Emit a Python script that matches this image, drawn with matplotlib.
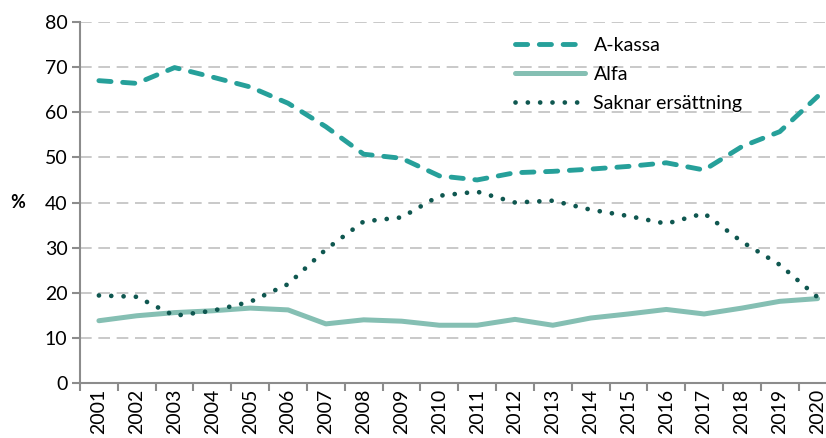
import matplotlib.pyplot as plt
import numpy as np

plt.rcParams['font.family'] = ['Lato', 'DejaVu Sans']

years = [str(y) for y in range(2001, 2021)]
a_kassa = [67.0, 66.4, 69.9, 67.8, 65.6, 62.0, 56.8, 50.7, 49.8, 45.9,
           45.0, 46.6, 46.9, 47.4, 48.0, 48.8, 47.2, 52.4, 55.7, 63.5]
alfa = [13.8, 14.9, 15.6, 16.0, 16.6, 16.2, 13.1, 14.0, 13.7, 12.8,
        12.8, 14.1, 12.8, 14.4, 15.3, 16.3, 15.3, 16.6, 18.1, 18.7]
saknar = [19.4, 19.1, 14.9, 16.0, 18.0, 21.9, 29.6, 35.8, 36.7, 41.5,
          42.4, 40.0, 40.4, 38.4, 37.0, 35.3, 37.6, 31.3, 26.2, 19.0]

c_akassa = '#26A09A'
c_alfa = '#85BFB3'
c_saknar = '#0F5750'
grey = '#8C8C8C'

fig = plt.figure(figsize=(8.26, 4.38), dpi=100)
# plot area runs a bit past the right edge, like the source image
ax = fig.add_axes([80 / 826, 55 / 438, 756.5 / 826, 361 / 438])

x = np.arange(len(years))
ax.plot(x, a_kassa, color=c_akassa, lw=3.5, dashes=(2.5, 2.4),
        dash_capstyle='round', label='A-kassa', zorder=3)
ax.plot(x, alfa, color=c_alfa, lw=3.6, solid_capstyle='round',
        label='Alfa', zorder=2)
ax.plot(x, saknar, color=c_saknar, lw=3.4, dashes=(0.01, 2.6),
        dash_capstyle='round', label='Saknar ersättning', zorder=3)

ax.set_ylim(0, 80)
ax.set_xlim(-0.5, len(years) - 0.5)
ax.set_yticks(range(0, 81, 10))
for v in range(10, 81, 10):
    ax.axhline(v, color='#C0C0C0', lw=1.2, dashes=(7, 4), zorder=1)

# category axis: ticks between years, labels in the middle
ax.set_xticks(np.arange(-0.5, len(years), 1))
ax.set_xticklabels([])
ax.set_xticks(x, minor=True)
ax.set_xticklabels(years, minor=True, rotation=90, va='top')
ax.tick_params(axis='x', which='minor', length=0, pad=4, labelsize=14)
ax.tick_params(axis='x', which='major', length=6, width=1.5, color=grey)
ax.tick_params(axis='y', length=6, width=1.5, color=grey, labelsize=14, pad=3)

for side in ['top', 'right']:
    ax.spines[side].set_visible(False)
for side in ['left', 'bottom']:
    ax.spines[side].set_color(grey)
    ax.spines[side].set_linewidth(1.5)

fig.text(18 / 826, 1 - 203 / 438, '%', fontsize=13, fontweight='bold',
         va='center', ha='center')

ax.legend(loc='upper left', bbox_to_anchor=(505 / 826, 1 - 27 / 438),
          bbox_transform=fig.transFigure, frameon=False, fontsize=14,
          handlelength=3.6, handletextpad=0.45, labelspacing=0.62,
          borderpad=0)

fig.savefig('out.png', dpi=100)
